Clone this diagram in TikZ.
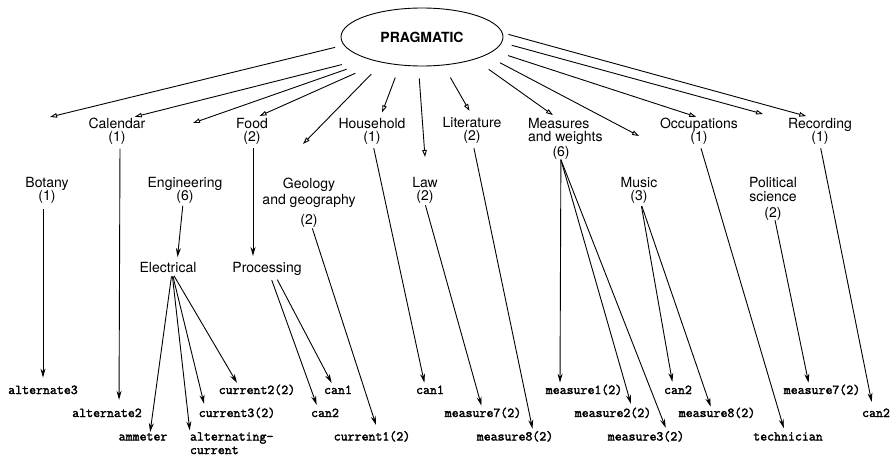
\documentclass[tikz,border=0pt]{standalone}
\usepackage{fontspec}
\setmainfont{TeX Gyre Heros}
\newfontfamily\leafface{Latin Modern Mono}[FakeBold=2.2]
\usetikzlibrary{shapes.geometric,arrows.meta}
\newcommand\lblfont{\fontsize{14}{13.5}\selectfont}
\newcommand\leaffont{\fontsize{13.5}{13.5}\selectfont\leafface}
\tikzset{
  lbl/.style={font=\lblfont, align=center, inner sep=0pt, outer sep=0pt, anchor=north},
  leaf/.style={font=\leaffont, inner sep=0pt, outer sep=0pt, anchor=base},
  topedge/.style={line width=0.9pt, -{Triangle[open,length=7pt,width=4.5pt]}},
  lowedge/.style={line width=0.9pt, -{Stealth[length=9pt,width=5pt]}}
}
\begin{document}
\begin{tikzpicture}[x=1pt,y=-1pt]
\useasboundingbox (0,0) rectangle (890,457);
% root
\node[draw, line width=0.9pt, ellipse, minimum width=162pt, minimum height=58pt, inner sep=0pt,
      font=\fontsize{14}{14}\selectfont\bfseries] (P) at (422,37) {PRAGMATIC};
% first row labels
\node[lbl] (cal) at (117,118) {Calendar\\(1)};
\node[lbl] (food) at (252,118) {Food\\(2)};
\node[lbl] (house) at (372,118) {Household\\(1)};
\node[lbl] (lit) at (472,117) {Literature\\(2)};
\node[lbl, align=left, anchor=north west] (meas) at (528,118) {Measures\\and weights\\[1.5pt]\hspace*{24.5pt}(6)};
\node[lbl] (occ) at (699,118) {Occupations\\(1)};
\node[lbl] (rec) at (820,118) {Recording\\(1)};
% second row labels
\node[lbl] (bot) at (47,177) {Botany\\(1)};
\node[lbl] (eng) at (185,177) {Engineering\\(6)};
\node[lbl] (geo) at (309,178) {Geology\\[2.5pt]and geography\\[6.5pt](2)};
\node[lbl] (law) at (425,177) {Law\\(2)};
\node[lbl] (music) at (639,177) {Music\\(3)};
\node[lbl] (pol) at (773,177) {Political\\[0.5pt]science\\[2.5pt](2)};
% third row labels
\node[lbl] (elec) at (168,262) {Electrical};
\node[lbl] (proc) at (267,262) {Processing};
% leaves
\node[leaf] (alt3) at (43,394) {alternate3};
\node[leaf] (alt2) at (107,417) {alternate2};
\node[leaf] (amm) at (143,440.5) {ammeter};
\node[leaf, anchor=north west, align=left] (altc) at (190,432.3) {alternating-\\current};
\node[leaf] (cur2) at (257,394) {current2(2)};
\node[leaf] (cur3) at (237,417) {current3(2)};
\node[leaf] (can1a) at (338,394) {can1};
\node[leaf] (can2a) at (325,417) {can2};
\node[leaf] (cur1) at (372,440.5) {current1(2)};
\node[leaf] (can1b) at (430,394) {can1};
\node[leaf] (m7a) at (483,417) {measure7(2)};
\node[leaf] (m8a) at (515,440.5) {measure8(2)};
\node[leaf] (m1) at (584,394) {measure1(2)};
\node[leaf] (m2) at (613,417) {measure2(2)};
\node[leaf] (m3) at (646,440.5) {measure3(2)};
\node[leaf] (can2b) at (678,394) {can2};
\node[leaf] (m8b) at (717,417) {measure8(2)};
\node[leaf] (tech) at (788,440.5) {technician};
\node[leaf] (m7b) at (822,394) {measure7(2)};
\node[leaf] (can2c) at (876,417) {can2};
% free ends of top arrows
\coordinate (t1) at (50,117);
\coordinate (t3) at (193,123);
\coordinate (t5) at (303,144);
\coordinate (t7) at (425,157);
\coordinate (t10) at (639,136);
\coordinate (t12) at (763,114);
% top arrows
\draw[topedge, shorten <=9pt] (P.186) -- (t1);
\draw[topedge, shorten <=25pt, shorten >=5pt] (P.201) -- ([xshift=13pt]cal.north);
\draw[topedge, shorten <=27pt] (P.205) -- (t3);
\draw[topedge, shorten <=27pt, shorten >=5pt] (P.211) -- ([xshift=3pt]food.north);
\draw[topedge, shorten <=16pt] (P.213) -- (t5);
\draw[topedge, shorten <=13pt, shorten >=6pt] (P.232) -- ([xshift=8pt]house.north);
\draw[topedge, shorten <=12pt] (P.263) -- (t7);
\draw[topedge, shorten <=14pt, shorten >=7pt] (P.307) -- ([xshift=1pt]lit.north);
\draw[topedge, shorten <=17pt, shorten >=5pt] (P.337) -- ([xshift=29pt]meas.north west);
\draw[topedge, shorten <=16pt] (P.344) -- (t10);
\draw[topedge, shorten <=15pt, shorten >=4pt] (P.349) -- ([xshift=1pt]occ.north);
\draw[topedge, shorten <=10pt] (P.356) -- (t12);
\draw[topedge, shorten <=6pt, shorten >=7pt] (P.3) -- ([xshift=-7pt]rec.north);
% lower arrows
\draw[lowedge, shorten <=5.5pt, shorten >=8pt] ([xshift=-4pt]bot.south) -- (alt3.north);
\draw[lowedge, shorten <=3.6pt, shorten >=8.8pt] ([xshift=3pt]cal.south) -- ([xshift=12pt]alt2.north);
\draw[lowedge, shorten <=2pt, shorten >=5pt] ([xshift=-2pt]eng.south) -- ([xshift=9pt]elec.north);
\draw[lowedge, shorten <=3.6pt, shorten >=6pt] ([xshift=1pt]food.south) -- ([xshift=-14pt]proc.north);
\draw[lowedge, shorten <=4pt, shorten >=1pt] ([xshift=4pt]elec.south) -- ([xshift=7pt]amm.north);
\draw[lowedge, shorten <=4pt, shorten >=2pt] ([xshift=4pt]elec.south) -- (altc.north west);
\draw[lowedge, shorten <=4pt, shorten >=4pt] ([xshift=4pt]elec.south) -- ([xshift=-32pt]cur3.north);
\draw[lowedge, shorten <=4pt, shorten >=2pt] ([xshift=4pt]elec.south) -- ([xshift=-19pt]cur2.north);
\draw[lowedge, shorten <=5pt, shorten >=4pt] ([xshift=3pt]proc.south) -- ([xshift=-7pt]can2a.north);
\draw[lowedge, shorten <=5pt, shorten >=3pt] ([xshift=8pt]proc.south) -- ([xshift=-5pt]can1a.north);
\draw[lowedge, shorten <=1pt, shorten >=6.5pt] ([xshift=3pt]geo.south) -- ([xshift=6pt]cur1.north);
\draw[lowedge, shorten <=3.6pt, shorten >=3pt] ([xshift=1pt]house.south) -- ([xshift=-5pt]can1b.north);
\draw[lowedge, shorten <=1.6pt, shorten >=2pt] (law.south) -- ([xshift=-1pt]m7a.north);
\draw[lowedge, shorten <=4.6pt, shorten >=2.5pt] ([xshift=1pt]lit.south) -- ([xshift=18pt]m8a.north);
\draw[lowedge, shorten >=2pt] ([xshift=-4.4pt]meas.south) -- ([xshift=-24pt]m1.north);
\draw[lowedge, shorten >=4pt] ([xshift=-4.4pt]meas.south) -- ([xshift=19pt]m2.north);
\draw[lowedge, shorten >=3.5pt] ([xshift=-4.4pt]meas.south) -- ([xshift=21pt]m3.north);
\draw[lowedge, shorten <=2.6pt, shorten >=3.8pt] ([xshift=2pt]music.south) -- ([xshift=-5pt]can2b.north);
\draw[lowedge, shorten <=2.6pt, shorten >=1pt] ([xshift=2pt]music.south) -- ([xshift=-6pt]m8b.north);
\draw[lowedge, shorten <=3.6pt, shorten >=4.3pt] ([xshift=1pt]occ.south) -- ([xshift=-3pt]tech.north);
\draw[lowedge, shorten >=2pt] ([xshift=2pt]pol.south) -- ([xshift=-13pt]m7b.north);
\draw[lowedge, shorten <=3.6pt, shorten >=6.8pt] (rec.south) -- ([xshift=-3pt]can2c.north);
\end{tikzpicture}
\end{document}
